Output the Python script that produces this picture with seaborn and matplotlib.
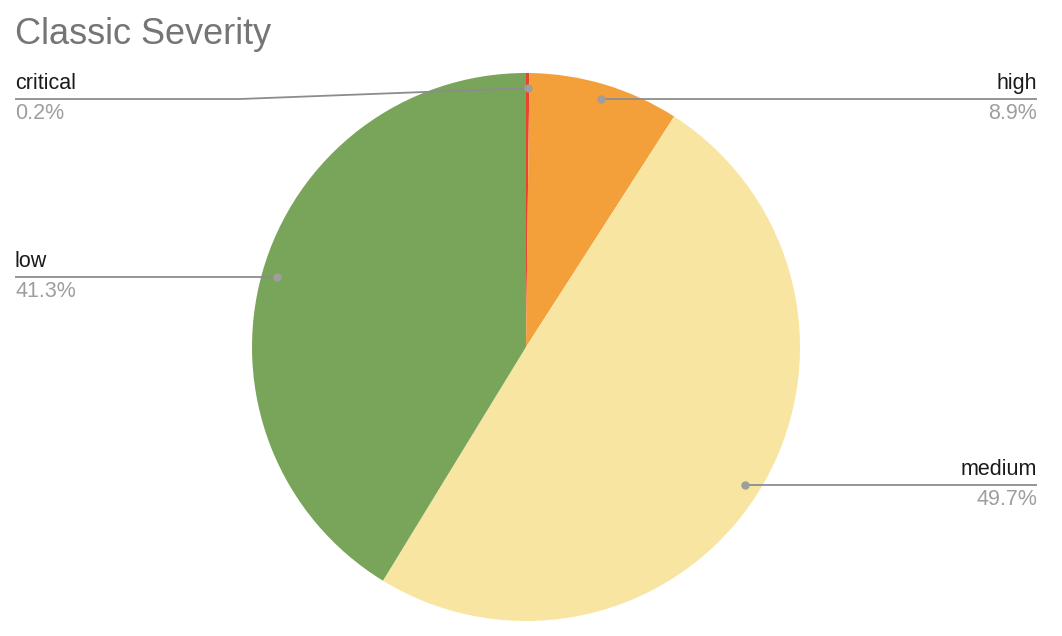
import numpy as np
import matplotlib
matplotlib.use("Agg")
import matplotlib.pyplot as plt
import seaborn as sns

# data
severities = ["critical", "high", "medium", "low"]
shares = [0.2, 8.9, 49.7, 41.3]
colors = ["#e4452b", "#f4a03a", "#f9e5a2", "#79a55a"]

# label side: left or right of the pie
sides = ["left", "right", "right", "left"]

sns.set_style("white")
plt.rcParams["font.family"] = ["Liberation Sans", "DejaVu Sans"]

W, H = 1062, 636
fig = plt.figure(figsize=(W / 100, H / 100), dpi=100)
ax = fig.add_axes([0, 0, 1, 1])

cx, cy, R = 526, H - 347, 274
wedges, _ = ax.pie(shares, colors=colors, startangle=90, counterclock=False,
                   center=(cx, cy), radius=R, frame=True,
                   wedgeprops={"linewidth": 0})
ax.set_xlim(0, W)
ax.set_ylim(0, H)
ax.set_aspect("equal")
ax.axis("off")

fig.text(15 / W, 1 - 35 / H, "Classic Severity", fontsize=26, color="#757575",
         va="center", ha="left")

line_col = "#8c8c8c"
for w, name, pct, side in zip(wedges, severities, shares, sides):
    mid = np.deg2rad((w.theta1 + w.theta2) / 2)
    px = cx + 0.945 * R * np.cos(mid)
    py = cy + 0.945 * R * np.sin(mid)
    ly = py
    pts_x, pts_y = [px], [py]
    if name == "critical":
        # kinked leader to keep it off the title
        ly = H - 99
        pts_x.append(240)
        pts_y.append(ly)
    if side == "left":
        end_x, ha = 15, "left"
    else:
        end_x, ha = 1037, "right"
    pts_x.append(end_x)
    pts_y.append(ly)
    ax.plot(pts_x, pts_y, color=line_col, lw=1.3, solid_capstyle="butt", zorder=3)
    ax.plot([px], [py], "o", color="#9e9e9e", ms=5, zorder=4)
    ax.text(end_x, ly + 5, name, fontsize=15.5, color="#1a1a1a", ha=ha, va="bottom")
    ax.text(end_x, ly - 4, f"{pct}%", fontsize=15.5, color="#9e9e9e", ha=ha, va="top")

fig.savefig("out.png", dpi=100, facecolor="white")
